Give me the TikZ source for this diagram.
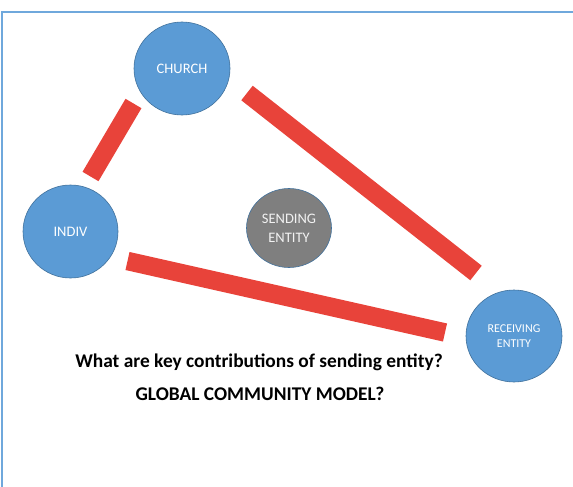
\documentclass[tikz,border=0pt]{standalone}
\usepackage{fontspec}
\setmainfont{Carlito}
\usetikzlibrary{shapes.geometric}
\definecolor{nodeblue}{HTML}{5B9BD5}
\definecolor{nodeedge}{HTML}{41719C}
\definecolor{nodegray}{HTML}{7F7F7F}
\definecolor{barred}{HTML}{E8433A}
\definecolor{frameblue}{HTML}{6FA8DC}

\begin{document}
\begin{tikzpicture}[x=1pt,y=-1pt,
  entity/.style={ellipse, draw=nodeedge, line width=0.6pt, fill=nodeblue,
    text=white, inner sep=0pt, align=center},
  bar/.style={draw=barred, line width=18.5pt, line cap=butt},
  caption/.style={font=\fontsize{19.4}{23}\selectfont\bfseries, anchor=base}
]
\useasboundingbox (0,0) rectangle (573,487);

% frame
\draw[frameblue, line width=2pt] (1.5,487) -- (1.5,12.5) -- (573,12.5);

% entities
\node[entity, minimum width=96pt, minimum height=93pt,
  font=\fontsize{14.5}{17}\selectfont] (church) at (182,68.5) {CHURCH};
\node[entity, minimum width=95pt, minimum height=93pt,
  font=\fontsize{14.5}{17}\selectfont] (indiv) at (70.5,231.5) {INDIV};
\node[entity, fill=nodegray, text=white!90!gray, minimum width=85pt, minimum height=79pt,
  font=\fontsize{14.5}{19}\selectfont] (sending) at (289,228) {SENDING\\ENTITY};
\node[entity, minimum width=96pt, minimum height=92pt,
  font=\fontsize{12}{15}\selectfont] (receiving) at (514,336) {RECEIVING\\ENTITY};

% links
\coordinate (b1s) at (133.5,103.5);
\coordinate (b1e) at (90.5,176.5);
\coordinate (b2s) at (247,93);
\coordinate (b2e) at (476,273);
\coordinate (b3s) at (127.5,261);
\coordinate (b3e) at (445,332.5);
\draw[bar] (b1s) -- (b1e);
\draw[bar] (b2s) -- (b2e);
\draw[bar] (b3s) -- (b3e);

% questions
\node[caption] (q1) at (259,367) {What are key contributions of sending entity?};
\node[caption] (q2) at (260,400) {GLOBAL COMMUNITY MODEL?};
\end{tikzpicture}
\end{document}
